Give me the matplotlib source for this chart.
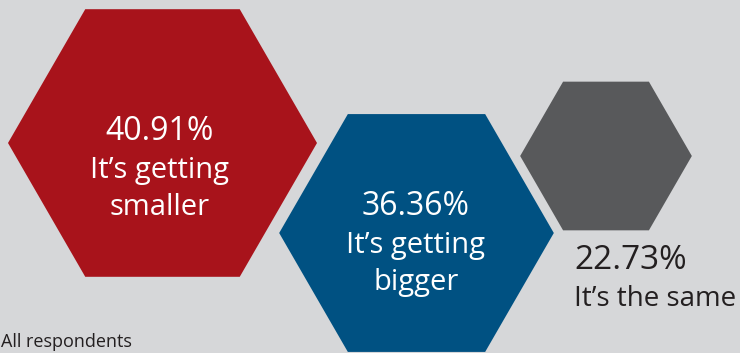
import matplotlib
matplotlib.use("Agg")
import matplotlib.pyplot as plt
from matplotlib.patches import RegularPolygon
import numpy as np

# Survey shares and their labels
values = [40.91, 36.36, 22.73]
labels = [["It’s getting", "smaller"], ["It’s getting", "bigger"], ["It’s the same"]]
colors = ["#a8131b", "#005182", "#58595b"]
footnote = "All respondents"

# Layout (pixel coordinates, y downward)
W, H = 740, 353
centers = [(162.5, 143), (416.5, 233), (606, 156)]
scale = 154.5 / values[0]   # hexagon radius per percentage point

plt.rcParams["font.family"] = ["Open Sans", "DejaVu Sans"]

fig = plt.figure(figsize=(W / 100, H / 100), dpi=100)
fig.patch.set_facecolor("#d6d7d9")
ax = fig.add_axes([0, 0, 1, 1])
ax.set_xlim(0, W)
ax.set_ylim(H, 0)
ax.set_aspect("equal")
ax.axis("off")

for (cx, cy), v, col in zip(centers, values, colors):
    hexagon = RegularPolygon((cx, cy), numVertices=6, radius=v * scale,
                             orientation=np.pi / 6, facecolor=col,
                             edgecolor="none")
    ax.add_patch(hexagon)

# Labels inside the two large hexagons: (x, baseline of first line)
inner_pos = [(160, 140), (416, 215)]
for (tx, ty), v, lines in zip(inner_pos, values[:2], labels[:2]):
    ax.text(tx, ty, f"{v:.2f}%", color="white", fontsize=23,
            ha="center", va="baseline")
    for i, line in enumerate(lines):
        ax.text(tx, ty + 38 + 37 * i, line, color="white", fontsize=21,
                ha="center", va="baseline")

# Label below the small hexagon
ax.text(574, 269, f"{values[2]:.2f}%", color="#231f20", fontsize=24,
        ha="left", va="baseline")
ax.text(574, 306, labels[2][0], color="#231f20", fontsize=20,
        ha="left", va="baseline")

ax.text(1, 347, footnote, color="#231f20", fontsize=13,
        ha="left", va="baseline")

fig.savefig("out.png", dpi=100, facecolor=fig.get_facecolor())
